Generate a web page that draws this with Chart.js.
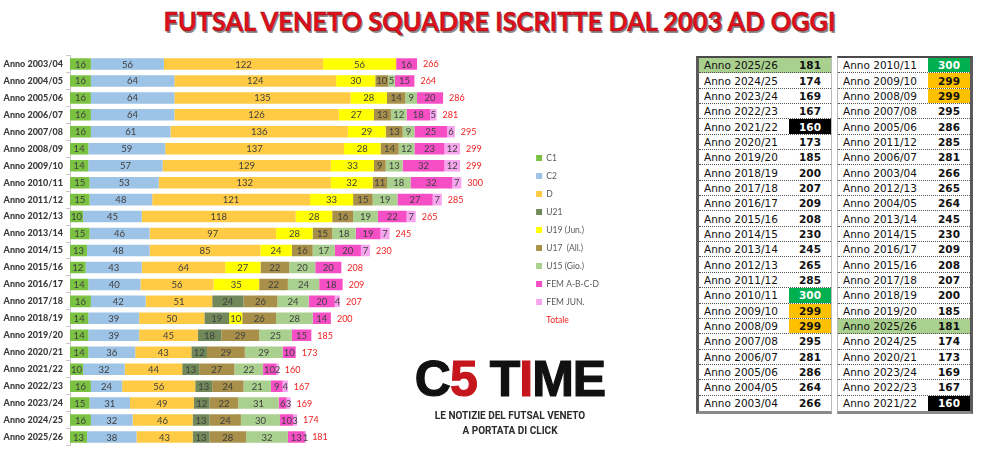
<!DOCTYPE html>
<html>
<head>
<meta charset="utf-8">
<script src="https://cdn.jsdelivr.net/npm/chart.js@4.4.1/dist/chart.umd.min.js"></script>
<style>
html,body{margin:0;padding:0;background:#fff;width:1000px;height:474px;overflow:hidden;}
body{position:relative;font-family:Lato,"Liberation Sans",sans-serif;}
#title{position:absolute;top:4px;left:0;width:1000px;text-align:center;white-space:nowrap;}
#title span{display:inline-block;font-family:Lato,sans-serif;font-weight:700;font-size:27px;color:#e3101c;
  -webkit-text-stroke:0.5px #8a0c12;text-shadow:1.5px 1.5px 0 #8c8c8c;transform-origin:center center;}
#chartBox{position:absolute;left:0;top:0;width:609px;height:474px;}
.tbl{position:absolute;top:56px;width:136px;font-family:"DejaVu Sans",sans-serif;font-size:10.5px;color:#111;
  border-top:2px solid #4a4a4a;border-bottom:3px solid #8a8a8a;box-sizing:border-box;}
#t1{left:696px;border-left:3px solid #5a5a5a;border-right:1px solid #bbb;}
#t2{left:837px;border-right:3px solid #5a5a5a;border-left:1px solid #bbb;}
.row{display:flex;height:15.35px;box-sizing:border-box;border-bottom:1px dotted #555;align-items:stretch;}
.row:last-child{border-bottom:none;}
.lab{width:85px;padding-left:5px;display:flex;align-items:center;white-space:nowrap;}
.val{flex:1;display:flex;align-items:center;justify-content:center;font-weight:bold;}
#logo{position:absolute;left:410px;top:354px;width:200px;text-align:center;}
#logoMain{font-family:"Liberation Sans",Arial,sans-serif;font-weight:bold;font-size:50px;line-height:50px;color:#111;letter-spacing:-1px;white-space:nowrap;-webkit-text-stroke:1.2px #111;}
#logoMain .r{color:#c4161c;-webkit-text-stroke:1.2px #c4161c;}
#logoSub{font-family:Roboto,"Liberation Sans",Arial,sans-serif;font-weight:bold;font-size:10px;line-height:15px;color:#2a2a2a;margin-top:4px;}
</style>
</head>
<body>
<div id="title"><span id="titleText">FUTSAL VENETO SQUADRE ISCRITTE DAL 2003 AD OGGI</span></div>
<div id="chartBox"><canvas id="c"></canvas></div>
<div class="tbl" id="t1"></div>
<div class="tbl" id="t2"></div>
<div id="logo">
  <div id="logoMain">C<span class="r">5</span> T<span class="r">I</span>ME</div>
  <div id="logoSub">LE NOTIZIE DEL FUTSAL VENETO<br>A PORTATA DI CLICK</div>
</div>
<script>
const categories = ['Anno 2003/04','Anno 2004/05','Anno 2005/06','Anno 2006/07','Anno 2007/08','Anno 2008/09','Anno 2009/10','Anno 2010/11','Anno 2011/12','Anno 2012/13','Anno 2013/14','Anno 2014/15','Anno 2015/16','Anno 2016/17','Anno 2017/18','Anno 2018/19','Anno 2019/20','Anno 2020/21','Anno 2021/22','Anno 2022/23','Anno 2023/24','Anno 2024/25','Anno 2025/26'];
const C1   = [16,16,16,16,16,14,14,15,15,10,15,13,12,14,16,14,14,14,10,16,15,16,13];
const C2   = [56,64,64,64,61,59,57,53,48,45,46,48,43,40,42,39,39,36,32,24,31,32,38];
const D    = [122,124,135,126,136,137,129,132,121,118,97,85,64,56,51,50,45,43,44,56,49,46,43];
const U21  = [0,0,0,0,0,0,0,0,0,0,0,0,0,0,24,19,18,12,13,13,12,13,13];
const U19  = [56,30,28,27,29,28,33,32,33,28,28,24,27,35,0,10,0,0,0,0,0,0,0];
const U17  = [0,10,14,13,13,14,9,11,15,16,15,16,22,22,26,26,29,29,27,24,22,24,28];
const U15  = [0,5,9,12,9,12,13,18,19,19,18,17,20,24,24,28,25,29,22,21,31,30,32];
const FEM  = [16,15,20,18,25,23,32,32,27,22,19,20,20,18,20,14,15,10,10,9,6,10,13];
const FEMJ = [0,0,0,5,6,12,12,7,7,7,7,7,0,0,4,0,0,0,2,4,3,3,1];
const totals = [266,264,286,281,295,299,299,300,285,265,245,230,208,209,207,200,185,173,160,167,169,174,181];
const seriesNames = ['C1','C2','D','U21','U19 (Jun.)','U17  (All.)','U15 (Gio.)','FEM A-B-C-D','FEM JUN.'];
const totalLabel = 'Totale';

const seriesData = [C1,C2,D,U21,U19,U17,U15,FEM,FEMJ];
const seriesColors = ['#7cc242','#9dc3e6','#ffcb45','#71895a','#ffff00','#a8904a','#a9d08e','#f64fc6','#f6a6ee'];

const X_MAX = 350;

const segLabels = {
  id: 'segLabels',
  afterDatasetsDraw(chart) {
    const ctx = chart.ctx;
    ctx.save();
    ctx.font = '9.5px Lato, sans-serif';
    ctx.fillStyle = '#3f3f3f';
    ctx.textAlign = 'center';
    ctx.textBaseline = 'middle';
    chart.data.datasets.forEach((ds, di) => {
      const meta = chart.getDatasetMeta(di);
      meta.data.forEach((el, i) => {
        const v = ds.data[i];
        if (!v) return;
        ctx.fillText(String(v), (el.x + el.base) / 2, el.y + 0.5);
      });
    });
    const last = chart.data.datasets.length - 1;
    ctx.font = '9px Lato, sans-serif';
    ctx.fillStyle = '#f01c1c';
    ctx.textAlign = 'left';
    const lastMeta = chart.getDatasetMeta(last);
    lastMeta.data.forEach((el, i) => {
      ctx.fillText(String(totals[i]), el.x + 6, el.y + 0.5);
    });
    ctx.restore();
  }
};

new Chart(document.getElementById('c'), {
  type: 'bar',
  data: {
    labels: categories,
    datasets: seriesNames.map((n, k) => ({
      label: n,
      data: seriesData[k],
      backgroundColor: seriesColors[k],
      borderWidth: 0,
      barPercentage: 0.68,
      categoryPercentage: 1
    }))
  },
  options: {
    indexAxis: 'y',
    responsive: true,
    maintainAspectRatio: false,
    animation: false,
    layout: { padding: { top: 55.5, bottom: 28.5, left: 0, right: 0 } },
    scales: {
      x: { stacked: true, display: false, min: 0, max: X_MAX },
      y: {
        stacked: true,
        offset: true,
        afterFit(s) { s.width = 70; },
        grid: { display: true, drawOnChartArea: false, tickLength: 4, color: '#c8c8c8', offset: true },
        border: { display: true, color: '#c8c8c8' },
        ticks: { padding: 3, color: '#3a3a3a', font: { family: 'Lato', size: 9, weight: '900' } }
      }
    },
    plugins: {
      tooltip: { enabled: false },
      legend: {
        position: 'right',
        align: 'start',
        onClick: null,
        title: { display: true, text: '', padding: { top: 78, bottom: 0 }, font: { size: 9 } },
        labels: {
          boxWidth: 6, boxHeight: 6, padding: 9.5,
          color: '#595959',
          font: { family: 'Lato', size: 8.5 },
          generateLabels(chart) {
            const items = Chart.defaults.plugins.legend.labels.generateLabels(chart).map(it => Object.assign(it, { lineWidth: 0, strokeStyle: 'rgba(0,0,0,0)', fontColor: '#595959' }));
            items.push({ text: totalLabel, fillStyle: 'rgba(0,0,0,0)', strokeStyle: 'rgba(0,0,0,0)', lineWidth: 0, hidden: false, fontColor: '#f01c1c', datasetIndex: -1 });
            return items;
          }
        }
      }
    }
  },
  plugins: [segLabels]
});

const rowsChrono = categories.map((c, i) => ({ name: c, total: totals[i], idx: i })).reverse();
const rowsSorted = rowsChrono.slice().sort((a, b) => b.total - a.total);
const maxT = Math.max(...totals), minT = Math.min(...totals);
const secondT = Math.max(...totals.filter(t => t < maxT));
const currentIdx = categories.length - 1;
function buildTable(el, rows) {
  el.innerHTML = rows.map(r => {
    let rowStyle = '', valStyle = '';
    if (r.idx === currentIdx) rowStyle = 'background:#a9d08e;';
    if (r.total === maxT) valStyle = 'background:#00b050;color:#fff;';
    else if (r.total === secondT) valStyle = 'background:#ffc000;';
    else if (r.total === minT) valStyle = 'background:#000;color:#fff;';
    return `<div class="row" style="${rowStyle}"><div class="lab">${r.name}</div><div class="val" style="${valStyle}">${r.total}</div></div>`;
  }).join('');
}
buildTable(document.getElementById('t1'), rowsChrono);
buildTable(document.getElementById('t2'), rowsSorted);

const tt = document.getElementById('titleText');
const w = tt.getBoundingClientRect().width;
tt.style.transform = 'scaleX(' + (672 / w) + ')';
</script>
</body>
</html>
